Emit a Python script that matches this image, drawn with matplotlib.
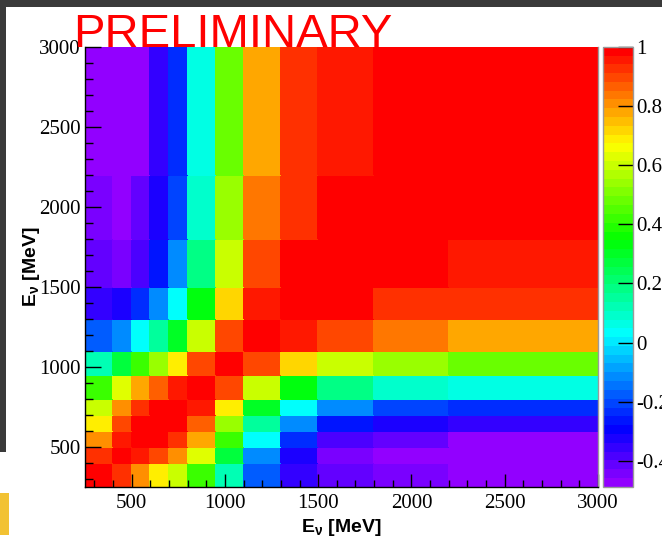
import colorsys
import numpy as np
import matplotlib
matplotlib.use("Agg")
import matplotlib.pyplot as plt
from matplotlib.colors import ListedColormap, Normalize
from matplotlib.patches import Rectangle

# neutrino energy bins [MeV], same on both axes
bin_edges = [250, 400, 500, 600, 700, 800, 950, 1100, 1300, 1500, 1800, 2200, 3000]

# correlation coefficients, rows = y bins (low -> high), columns = x bins
corr_rows = [
    [1.00, 0.92, 0.80, 0.70, 0.60, 0.42, 0.11, -0.17, -0.35, -0.41, -0.44, -0.47],
    [0.92, 1.00, 0.96, 0.89, 0.80, 0.62, 0.28, -0.11, -0.32, -0.45, -0.48, -0.48],
    [0.80, 0.96, 1.00, 0.98, 0.92, 0.77, 0.42, 0.03, -0.22, -0.38, -0.41, -0.46],
    [0.70, 0.89, 0.98, 1.00, 0.98, 0.86, 0.54, 0.15, -0.11, -0.26, -0.33, -0.35],
    [0.60, 0.80, 0.92, 0.98, 1.00, 0.96, 0.68, 0.30, 0.03, -0.11, -0.19, -0.22],
    [0.42, 0.62, 0.77, 0.86, 0.96, 1.00, 0.89, 0.60, 0.34, 0.18, 0.09, 0.07],
    [0.11, 0.28, 0.42, 0.54, 0.68, 0.89, 1.00, 0.89, 0.72, 0.60, 0.53, 0.48],
    [-0.17, -0.11, 0.03, 0.15, 0.30, 0.60, 0.89, 1.00, 0.96, 0.89, 0.84, 0.77],
    [-0.35, -0.32, -0.22, -0.11, 0.03, 0.34, 0.72, 0.96, 1.00, 0.98, 0.94, 0.92],
    [-0.41, -0.45, -0.38, -0.26, -0.11, 0.18, 0.60, 0.89, 0.98, 1.00, 0.98, 0.95],
    [-0.44, -0.48, -0.41, -0.33, -0.19, 0.09, 0.53, 0.84, 0.94, 0.98, 1.00, 0.98],
    [-0.47, -0.48, -0.46, -0.35, -0.22, 0.07, 0.48, 0.77, 0.92, 0.95, 0.98, 1.00],
]

cbar_ticks = [-0.4, -0.2, 0, 0.2, 0.4, 0.6, 0.8, 1]
cbar_labels = ["-0.4", "-0.2", "0", "0.2", "0.4", "0.6", "0.8", "1"]
axis_ticks = [500, 1000, 1500, 2000, 2500, 3000]


def root_rainbow(n=50, max_hue=280.0):
    # old ROOT "pretty palette": HLS hue scan violet -> red, last colour pure red
    cols = []
    for i in range(n - 1):
        hue = max_hue - (i + 1) * (max_hue / n)
        cols.append(colorsys.hls_to_rgb(hue / 360.0, 0.5, 1.0))
    cols.append((1.0, 0.0, 0.0))
    return ListedColormap(cols)


plt.rcParams['mathtext.fontset'] = 'custom'
plt.rcParams['mathtext.rm'] = 'Liberation Sans:bold'
plt.rcParams['mathtext.it'] = 'Liberation Sans:bold'
plt.rcParams['mathtext.bf'] = 'Liberation Sans:bold'

W, H = 662, 542
fig = plt.figure(figsize=(W / 100, H / 100), dpi=100)
fig.patch.set_facecolor('white')

# dark slide border at top and left
fig.patches.append(Rectangle((0, 1 - 7 / H), 1, 7 / H, transform=fig.transFigure,
                             facecolor='#3a3a3a', edgecolor='none', zorder=0))
fig.patches.append(Rectangle((0, 1 - 452 / H), 6 / W, 452 / H, transform=fig.transFigure,
                             facecolor='#3a3a3a', edgecolor='none', zorder=0))
fig.patches.append(Rectangle((0, 1 - 535 / H), 9 / W, 42 / H, transform=fig.transFigure,
                             facecolor='#f2c233', edgecolor='none', zorder=0))

ax = fig.add_axes([85 / W, 1 - 486.7 / H, 513 / W, 440 / H])
cmap = root_rainbow()
norm = Normalize(vmin=-0.487, vmax=1.0)
corr = np.array(corr_rows)
mesh = ax.pcolormesh(bin_edges, bin_edges, corr, cmap=cmap, norm=norm,
                     edgecolors='face', linewidth=0.3)

ax.set_xlim(bin_edges[0], bin_edges[-1])
ax.set_ylim(bin_edges[0], bin_edges[-1])
ax.set_xticks(axis_ticks)
ax.set_yticks(axis_ticks)
ax.set_xticks(np.arange(300, 3001, 100), minor=True)
ax.set_yticks(np.arange(300, 3001, 100), minor=True)
ax.set_xticklabels([str(t) for t in axis_ticks])
ax.set_yticklabels([str(t) for t in axis_ticks])
for lab in ax.get_xticklabels() + ax.get_yticklabels():
    lab.set_family('Liberation Serif')
    lab.set_fontsize(15)
ax.tick_params(axis='x', which='major', direction='in', length=9.5, width=1.0, pad=5, color='black')
ax.tick_params(axis='x', which='minor', direction='in', length=5, width=1.0, color='black')
ax.tick_params(axis='y', which='major', direction='in', length=11.5, width=1.0, pad=3, color='black')
ax.tick_params(axis='y', which='minor', direction='in', length=5.8, width=1.0, color='black')
ax.spines['top'].set_visible(False)
ax.spines['right'].set_color('#9a9a9a')
ax.spines['left'].set_color('black')
ax.spines['bottom'].set_color('black')
for s in ax.spines.values():
    s.set_linewidth(1.0)

ax.set_xlabel(r'E$_{\nu}$ [MeV]', fontsize=14, fontweight='bold',
              family='Liberation Sans', labelpad=3)
ax.set_ylabel(r'E$_{\nu}$ [MeV]', fontsize=14, fontweight='bold',
              family='Liberation Sans', labelpad=-2)

# palette axis
cax = fig.add_axes([603 / W, 1 - 486.7 / H, 30 / W, 440 / H])
cb = fig.colorbar(mesh, cax=cax, ticks=cbar_ticks)
cb.ax.set_yticklabels(cbar_labels)
for lab in cb.ax.get_yticklabels():
    lab.set_family('Liberation Serif')
    lab.set_fontsize(15)
cb.ax.tick_params(direction='in', length=11, width=1.0, pad=2, color='black')
cb.ax.minorticks_off()
cb.outline.set_edgecolor('#9a9a9a')
cb.outline.set_linewidth(1.0)

fig.text(73 / W, 1 - 47 / H, 'PRELIMINARY', color='red', fontsize=34,
         family='Liberation Sans', ha='left', va='baseline', zorder=10)

fig.savefig('out.png', dpi=100)
